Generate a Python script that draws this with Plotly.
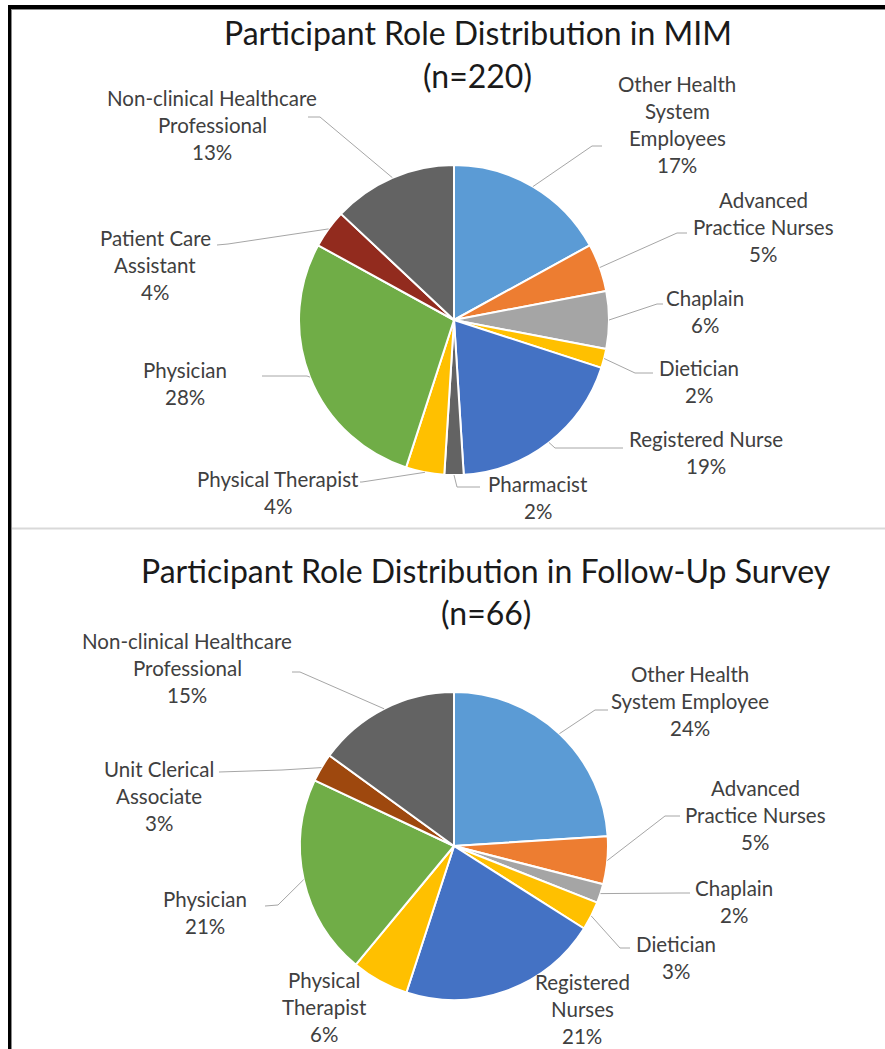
import math
import plotly.graph_objects as go

W, H = 885, 1049

# ---------------- data ----------------
title1 = ["Participant Role Distribution in MIM", "(n=220)"]
roles1 = ["Other Health<br>System<br>Employees", "Advanced<br>Practice Nurses", "Chaplain",
          "Dietician", "Registered Nurse", "Pharmacist", "Physical Therapist", "Physician",
          "Patient Care<br>Assistant", "Non-clinical Healthcare<br>Professional"]
pct1 = [17, 5, 6, 2, 19, 2, 4, 28, 4, 13]

title2 = ["Participant Role Distribution in Follow-Up Survey", "(n=66)"]
roles2 = ["Other Health<br>System Employee", "Advanced<br>Practice Nurses", "Chaplain",
          "Dietician", "Registered<br>Nurses", "Physical<br>Therapist", "Physician",
          "Unit Clerical<br>Associate", "Non-clinical Healthcare<br>Professional"]
pct2 = [24, 5, 2, 3, 21, 6, 21, 3, 15]

# ---------------- styles / layout ----------------
colors1 = ["#5B9BD5", "#ED7D31", "#A5A5A5", "#FFC000", "#4472C4", "#636363",
           "#FFC000", "#70AD47", "#922B1E", "#636363"]
colors2 = ["#5B9BD5", "#ED7D31", "#A5A5A5", "#FFC000", "#4472C4", "#FFC000",
           "#70AD47", "#9E480E", "#636363"]

PIE1 = dict(cx=454, cy=320, r=155)
PIE2 = dict(cx=454, cy=846, r=154)

TITLE1_POS = [(478, 32), (477, 75)]
TITLE2_POS = [(486, 570), (486, 612)]

LAB1 = [(677, 84), (763, 200), (705, 298), (699, 368), (706, 439), (538, 484),
        (278, 479), (185, 370), (155, 238), (212, 98)]
LEAD1 = [((592, 146), (602, 146)), ((677, 233), (687, 233)), ((657, 304), (663, 304)),
         ((635, 373), (653, 373)), ((555, 448), (623, 448)), ((457, 487), (480, 487)),
         ((362, 482), (360, 482)), ((307, 376), (262, 376)), ((228, 244), (217, 245)),
         ((320, 117), (308, 117))]

LAB2 = [(690, 674), (755, 788), (734, 888), (676, 944), (582, 982), (324, 980),
        (205, 899), (159, 769), (187, 641)]
LEAD2 = [((595, 710), (608, 710)), ((665, 816), (680, 816)), ((680, 893), (690, 893)),
         ((620, 948), (630, 948)), None, None, ((278, 905), (265, 906)),
         ((282, 770), (219, 772)), ((300, 672), (292, 672))]

LINE_H = 27
FONT = "Lato"
LABEL_SIZE = 20.5
TITLE_SIZE = 32
LABEL_COLOR = "#404040"
TITLE_COLOR = "#1a1a1a"
LEADER_COLOR = "#A6A6A6"

fig = go.Figure()
# invisible pixel-space axes for annotations and shapes
fig.add_trace(go.Scatter(x=[0, W], y=[0, H], mode="markers", marker=dict(opacity=0),
                         hoverinfo="skip", showlegend=False))

annotations = []
shapes = []


def add_pie(roles, pct, colors, pie, labels_pos, leaders, titles, title_pos):
    cx, cy, r = pie["cx"], pie["cy"], pie["r"]
    fig.add_trace(go.Pie(
        labels=[x.replace("<br>", " ") for x in roles], values=pct, sort=False,
        direction="clockwise", rotation=0, textinfo="none", hoverinfo="skip",
        marker=dict(colors=colors, line=dict(color="white", width=2)),
        showlegend=False,
        domain=dict(x=[(cx - r) / W, (cx + r) / W], y=[1 - (cy + r) / H, 1 - (cy - r) / H]),
    ))
    total = sum(pct)
    cum = 0
    for i, (name, v) in enumerate(zip(roles, pct)):
        mid = (cum + v / 2) / total * 2 * math.pi
        cum += v
        sx, sy = cx + r * math.sin(mid), cy - r * math.cos(mid)
        lines = name.split("<br>") + [f"{v}%"]
        lx, ly = labels_pos[i]
        for k, t in enumerate(lines):
            annotations.append(dict(x=lx, y=ly + k * LINE_H, text=t, showarrow=False,
                                    xref="x", yref="y", xanchor="center", yanchor="middle",
                                    font=dict(family=FONT, size=LABEL_SIZE, color=LABEL_COLOR)))
        if leaders[i] is not None:
            (ex, ey), (tx, ty) = leaders[i]
            shapes.append(dict(type="path", xref="x", yref="y",
                               path=f"M{sx:.1f},{sy:.1f} L{ex},{ey} L{tx},{ty}",
                               line=dict(color=LEADER_COLOR, width=1), layer="above"))
    for t, (x, y) in zip(titles, title_pos):
        annotations.append(dict(x=x, y=y, text=t, showarrow=False, xref="x", yref="y",
                                xanchor="center", yanchor="middle",
                                font=dict(family=FONT, size=TITLE_SIZE, color=TITLE_COLOR)))


add_pie(roles1, pct1, colors1, PIE1, LAB1, LEAD1, title1, TITLE1_POS)
add_pie(roles2, pct2, colors2, PIE2, LAB2, LEAD2, title2, TITLE2_POS)

# frame lines
shapes += [
    dict(type="rect", xref="x", yref="y", x0=8, x1=W, y0=5, y1=9,
         fillcolor="black", line=dict(width=0), layer="above"),
    dict(type="rect", xref="x", yref="y", x0=8, x1=11, y0=5, y1=H,
         fillcolor="black", line=dict(width=0), layer="above"),
    dict(type="line", xref="x", yref="y", x0=11.5, x1=11.5, y0=9, y1=H,
         line=dict(color="#8c8c8c", width=1), layer="above"),
    dict(type="line", xref="x", yref="y", x0=11, x1=W, y0=9.5, y1=9.5,
         line=dict(color="#8c8c8c", width=1), layer="above"),
    dict(type="line", xref="x", yref="y", x0=12, x1=W, y0=528.5, y1=528.5,
         line=dict(color="#D9D9D9", width=2), layer="above"),
]

fig.update_layout(
    width=W, height=H, margin=dict(l=0, r=0, t=0, b=0),
    paper_bgcolor="white", plot_bgcolor="white",
    xaxis=dict(range=[0, W], visible=False, fixedrange=True),
    yaxis=dict(range=[H, 0], visible=False, fixedrange=True),
    annotations=annotations, shapes=shapes, showlegend=False,
)

fig.write_html("out.html")
